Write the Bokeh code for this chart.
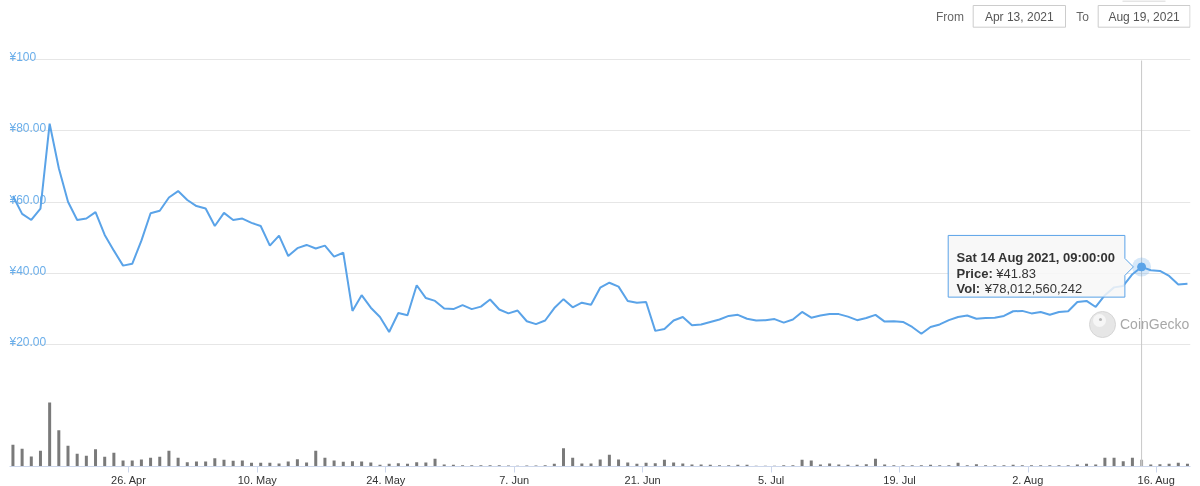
import pandas as pd
from bokeh.plotting import figure
from bokeh.models import Range1d, FixedTicker, Grid, ColumnDataSource
from bokeh.embed import file_html
from bokeh.resources import INLINE
from bokeh.core.properties import value

# ---------------- data ----------------
START = "2021-04-13 09:00"
PRICE = [61.7, 56.7, 55.0, 58.2, 82.0, 69.5, 60.1, 55.0, 55.4, 57.2,
         50.8, 46.4, 42.2, 42.7, 49.2, 56.9, 57.6, 61.3, 63.1, 60.6,
         58.9, 58.2, 53.3, 57.0, 55.0, 55.4, 54.2, 53.3, 47.8, 50.6,
         44.9, 47.1, 48.0, 47.0, 47.8, 44.7, 45.8, 29.5, 33.9, 30.4,
         27.8, 23.6, 28.9, 28.3, 36.7, 33.1, 32.3, 30.2, 30.0, 31.1,
         30.0, 30.7, 32.7, 29.9, 28.8, 29.6, 26.6, 25.8, 26.8, 30.3,
         32.8, 30.5, 31.8, 31.2, 36.0, 37.4, 36.3, 32.3, 31.8, 32.0,
         23.9, 24.4, 26.8, 27.8, 25.5, 25.7, 26.4, 27.1, 28.1, 28.4,
         27.3, 26.8, 26.9, 27.2, 26.2, 27.1, 29.2, 27.6, 28.2, 28.6,
         28.6, 27.9, 26.9, 27.5, 28.4, 26.5, 26.6, 26.4, 25.0, 23.1,
         25.0, 25.7, 26.9, 27.8, 28.2, 27.3, 27.5, 27.6, 28.1, 29.4,
         29.5, 28.8, 29.2, 28.4, 29.2, 29.4, 32.0, 32.3, 30.6, 33.9,
         36.1, 36.5, 39.8, 41.83, 40.9, 40.7, 39.3, 36.9, 37.1]
# 24h volume, billions of yen
VOLUME_B = [251, 205, 116, 182, 742, 421, 240, 147, 124, 201,
            112, 159, 70, 70, 81, 101, 112, 182, 101, 50,
            58, 58, 97, 77, 66, 70, 43, 43, 43, 35,
            58, 85, 46, 182, 101, 70, 54, 62, 58, 46,
            19, 31, 39, 31, 50, 46, 89, 23, 19, 15,
            15, 15, 15, 15, 12, 8, 12, 12, 15, 31,
            213, 101, 35, 35, 81, 135, 81, 46, 31, 43,
            39, 77, 46, 35, 23, 23, 19, 15, 15, 19,
            19, 8, 8, 8, 15, 15, 77, 70, 23, 35,
            23, 19, 19, 27, 89, 23, 15, 15, 15, 15,
            19, 15, 15, 43, 15, 27, 15, 15, 15, 19,
            15, 15, 15, 15, 15, 15, 23, 31, 23, 101,
            101, 62, 101, 78.01, 23, 27, 31, 43, 31]

X_TICK_DATES = ["2021-04-26", "2021-05-10", "2021-05-24", "2021-06-07", "2021-06-21",
                "2021-07-05", "2021-07-19", "2021-08-02", "2021-08-16"]
X_TICK_LABELS = ["26. Apr", "10. May", "24. May", "7. Jun", "21. Jun",
                 "5. Jul", "19. Jul", "2. Aug", "16. Aug"]
Y_TICKS = [20, 40, 60, 80, 100]
Y_LABELS = ["¥20.00", "¥40.00", "¥60.00", "¥80.00", "¥100"]

HOVER_INDEX = 123
TIP_TITLE = "Sat 14 Aug 2021, 09:00:00"
TIP_KEYS = ["Price:", "Vol:"]
TIP_VALUES = ["¥41.83", "¥78,012,560,242"]
RANGE_LABELS = ["From", "To"]
RANGE_DATES = ["Apr 13, 2021", "Aug 19, 2021"]
WATERMARK = "CoinGecko"

# ---------------- styling / geometry ----------------
FONT = value("Liberation Sans")
LINE_COLOR = "#5aa3e8"
YLAB_COLOR = "#6aaeea"
BAR_COLOR = "#7a7a7a"
BAR_HOVER = "#aaaaaa"

W, H = 1200, 490                           # canvas (viewport shows top 486 px)
FL, FR, FT, FB = 9, 1190, 0, 466          # frame edges (page px)
DAY = 86400000.0
PX_PER_DAY = 9.176
PX_PER_UNIT = 3.566
Y100_PX = 59
VOL_PER_PX = 11.6


def ms(ts):
    return pd.Timestamp(ts).value / 1e6


X_START = ms("2021-04-13 00:00")
X_END = X_START + (FR - FL) / PX_PER_DAY * DAY
Y_END = 100 + (Y100_PX - FT) / PX_PER_UNIT
Y_START = 100 - (FB - Y100_PX) / PX_PER_UNIT


def px_x(px):
    return X_START + (px - FL) / PX_PER_DAY * DAY


def px_y(py):
    return Y_END - (py - FT) / PX_PER_UNIT


dates = pd.date_range(START, periods=len(PRICE), freq="D")
bar_colors = [BAR_HOVER if i == HOVER_INDEX else BAR_COLOR for i in range(len(PRICE))]
src = ColumnDataSource(dict(date=dates, price=PRICE, vol=VOLUME_B, color=bar_colors))

p = figure(width=W, height=H, x_axis_type="datetime",
           x_range=Range1d(X_START, X_END), y_range=Range1d(Y_START, Y_END),
           y_axis_location=None, toolbar_location=None, output_backend="svg",
           min_border_left=FL, min_border_right=W - FR, min_border_top=FT,
           min_border_bottom=H - FB, outline_line_color=None,
           background_fill_color="white", border_fill_color="white")
p.styles = {"position": "fixed", "top": "0px", "left": "0px"}
p.extra_y_ranges = {"vol": Range1d(0, (FB - FT) * VOL_PER_PX)}

p.xgrid.visible = False
for g in p.ygrid:
    g.visible = False
p.add_layout(Grid(dimension=1, ticker=FixedTicker(ticks=Y_TICKS),
                  grid_line_color="#e6e6e6", grid_line_width=1))

ax = p.xaxis[0]
tick_ms = [ms(d) for d in X_TICK_DATES]
ax.ticker = FixedTicker(ticks=tick_ms)
ax.major_label_overrides = {t: l for t, l in zip(tick_ms, X_TICK_LABELS)}
ax.axis_line_color = "#ccd6eb"
ax.major_tick_line_color = "#ccd6eb"
ax.major_tick_out = 6
ax.major_tick_in = 0
ax.minor_tick_line_color = None
ax.minor_tick_out = 0
ax.major_label_text_font = "Liberation Sans"
ax.major_label_text_font_size = "11px"
ax.major_label_text_color = "#333333"
ax.major_label_standoff = 1

# y labels (drawn inside the plot, just above their gridlines)
p.text(x=[X_START] * len(Y_TICKS), y=[t + 2.4 / PX_PER_UNIT for t in Y_TICKS], text=Y_LABELS,
       text_font=FONT, text_font_size="12px", text_color=YLAB_COLOR,
       text_align="left", text_baseline="alphabetic")

# volume bars
p.vbar(x="date", top="vol", width=3 / PX_PER_DAY * DAY, fill_color="color",
       line_color=None, y_range_name="vol", source=src)

# crosshair
hx = ms(dates[HOVER_INDEX])
hy = PRICE[HOVER_INDEX]
p.segment(x0=[hx], y0=[px_y(60)], x1=[hx], y1=[Y_START], line_color="#c8c8c8", line_width=1)

# price line
p.line(x="date", y="price", source=src, line_color=LINE_COLOR, line_width=2)

# hovered point
p.scatter([hx], [hy], size=19, fill_color=LINE_COLOR, fill_alpha=0.25, line_color=None)
p.scatter([hx], [hy], size=8, fill_color=LINE_COLOR, line_color=LINE_COLOR)

# tooltip (callout)
pt_px = FL + (hx - X_START) / DAY * PX_PER_DAY
pt_py = FT + (Y_END - hy) * PX_PER_UNIT
l, r, t, b = pt_px - 193.4, pt_px - 16.7, pt_py - 31.5, pt_py + 30.2
poly = [(l, t), (r, t), (r, pt_py - 8.5), (pt_px - 8.2, pt_py), (r, pt_py + 8.5), (r, b), (l, b)]
p.patch([px_x(a) for a, _ in poly], [px_y(c) for _, c in poly],
        fill_color="#f7f7f7", fill_alpha=0.85, line_color=LINE_COLOR, line_width=1)
tx = l + 8.4
p.text(x=[px_x(tx)], y=[px_y(pt_py - 9.8)], text=[TIP_TITLE], text_font=FONT,
       text_font_size="13px", text_font_style="bold", text_color="#333333",
       text_align="left", text_baseline="alphabetic")
p.text(x=[px_x(tx)] * 2, y=[px_y(pt_py + 6.3), px_y(pt_py + 22.0)], text=TIP_KEYS,
       text_font=FONT, text_font_size="13px", text_font_style="bold", text_color="#333333",
       text_align="left", text_baseline="alphabetic")
p.text(x=[px_x(tx + 39.7), px_x(tx + 28.1)], y=[px_y(pt_py + 6.3), px_y(pt_py + 22.0)],
       text=TIP_VALUES, text_font=FONT, text_font_size="13px", text_color="#333333",
       text_align="left", text_baseline="alphabetic")

# watermark
p.scatter([px_x(1102)], [px_y(324)], size=26, fill_color="#e6e6e6", line_color="#d6d6d6")
p.scatter([px_x(1099)], [px_y(320)], size=13, fill_color="#f6f6f6", line_color=None)
p.scatter([px_x(1100)], [px_y(319)], size=3, fill_color="#b5b5b5", line_color=None)
p.text(x=[px_x(1119.5)], y=[px_y(323.5)], text=[WATERMARK], text_font=FONT,
       text_font_size="14px", text_color="#a8a8a8", text_align="left", text_baseline="middle")

# header: range inputs
p.segment(x0=[px_x(1122)], y0=[px_y(0.5)], x1=[px_x(1165)], y1=[px_y(0.5)],
          line_color="#cccccc", line_width=1)
p.quad(left=[px_x(972.7), px_x(1097.7)], right=[px_x(1065), px_x(1189.5)],
       top=[px_y(5), px_y(5)], bottom=[px_y(26.7), px_y(26.7)],
       fill_color="white", line_color="#cccccc", line_width=1)
p.text(x=[px_x(963.5), px_x(1075.7)], y=[px_y(16.5)] * 2, text=RANGE_LABELS,
       text_font=FONT, text_font_size="12px", text_color="#666666",
       text_align=["right", "left"], text_baseline="middle")
p.text(x=[px_x(1018.8), px_x(1143.6)], y=[px_y(16.5)] * 2, text=RANGE_DATES,
       text_font=FONT, text_font_size="12px", text_color="#555555",
       text_align="center", text_baseline="middle")

open("out.html", "w").write(file_html(p, INLINE))
